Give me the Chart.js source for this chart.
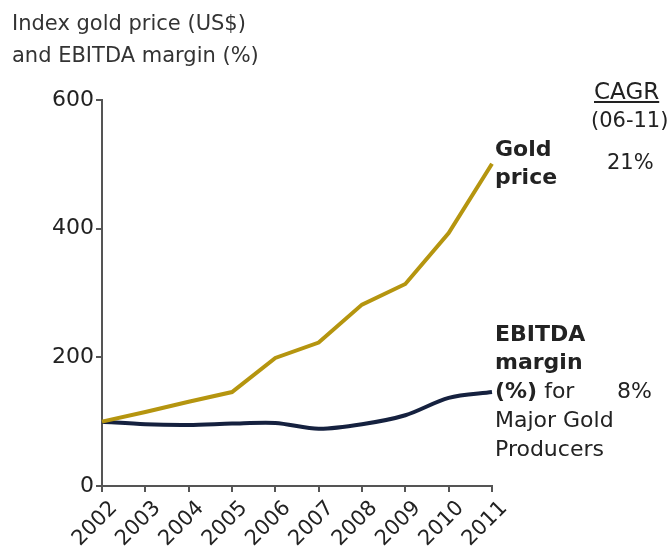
<!DOCTYPE html>
<html>
<head>
<meta charset="utf-8">
<script src="https://cdn.jsdelivr.net/npm/chart.js@4/dist/chart.umd.min.js"></script>
<style>
  html, body { margin:0; padding:0; background:#fff; }
  #wrap { position:relative; width:669px; height:550px; overflow:hidden; font-family:"DejaVu Sans", sans-serif; color:#222; }
  canvas { position:absolute; left:0; top:0; }
  .t { position:absolute; white-space:nowrap; line-height:1; }
</style>
</head>
<body>
<div id="wrap">
  <canvas id="c" width="669" height="550"></canvas>
</div>
<script>
const years = ["2002","2003","2004","2005","2006","2007","2008","2009","2010","2011"];
const goldIndex = [100, 115, 131, 146, 199, 223, 282, 314, 393, 501];
const ebitdaIndex = [100, 96, 95, 97, 98, 89, 96, 110, 137, 146];
const yTicks = [0, 200, 400, 600];
const goldCAGR = "21%";
const ebitdaCAGR = "8%";

const FONT = '"DejaVu Sans", sans-serif';
const axisColor = '#555';

new Chart(document.getElementById('c'), {
  type: 'line',
  data: {
    labels: years,
    datasets: [
      { label: 'Gold price', data: goldIndex, borderColor: '#B5950F', borderWidth: 4, pointRadius: 0, tension: 0, fill: false },
      { label: 'EBITDA margin', data: ebitdaIndex, borderColor: '#15213F', borderWidth: 4, pointRadius: 0, tension: 0.3, fill: false }
    ]
  },
  options: {
    responsive: false,
    animation: false,
    layout: { padding: { top: 100, right: 177, bottom: 0, left: 0 } },
    plugins: { legend: { display: false }, tooltip: { enabled: false } },
    scales: {
      x: {
        offset: false,
        grid: { drawOnChartArea: false, drawTicks: true, tickLength: 6, color: axisColor, lineWidth: 2 },
        border: { color: axisColor, width: 2 },
        ticks: { font: { family: FONT, size: 21 }, color: '#222', minRotation: 45, maxRotation: 45, labelOffset: 12, padding: 4, autoSkip: false },
        afterFit: s => { s.height = 64; }
      },
      y: {
        min: 0, max: 600,
        afterBuildTicks: s => { s.ticks = yTicks.map(v => ({ value: v })); },
        grid: { drawOnChartArea: false, drawTicks: true, tickLength: 6, color: axisColor, lineWidth: 2 },
        border: { color: axisColor, width: 2 },
        ticks: { font: { family: FONT, size: 22 }, color: '#222', padding: 2 },
        afterFit: s => { s.width = 102; }
      }
    }
  }
});

const wrap = document.getElementById('wrap');
function place(html, x, baseline, size, opts) {
  opts = opts || {};
  const d = document.createElement('div');
  d.className = 't';
  d.innerHTML = html;
  d.style.left = x + 'px';
  d.style.top = (baseline - 0.846 * size) + 'px';
  d.style.fontSize = size + 'px';
  if (opts.bold) d.style.fontWeight = 'bold';
  if (opts.color) d.style.color = opts.color;
  if (opts.underline) d.style.textDecoration = 'underline';
  wrap.appendChild(d);
}
place('Index gold price (US$)', 12, 31, 21, { color: '#333' });
place('and EBITDA margin (%)', 12, 63, 21, { color: '#333' });
place('CAGR', 594, 99, 23, { underline: true });
place('(06-11)', 591, 128, 21);
place('Gold', 495, 157, 22, { bold: true });
place('price', 495, 185, 22, { bold: true });
place(goldCAGR, 607, 170, 21);
place('EBITDA', 495, 342, 22, { bold: true });
place('margin', 495, 370, 22, { bold: true });
place('<b>(%)</b> for', 495, 399, 22);
place(ebitdaCAGR, 617, 399, 22);
place('Major Gold', 495, 428, 22);
place('Producers', 495, 457, 22);
</script>
</body>
</html>
